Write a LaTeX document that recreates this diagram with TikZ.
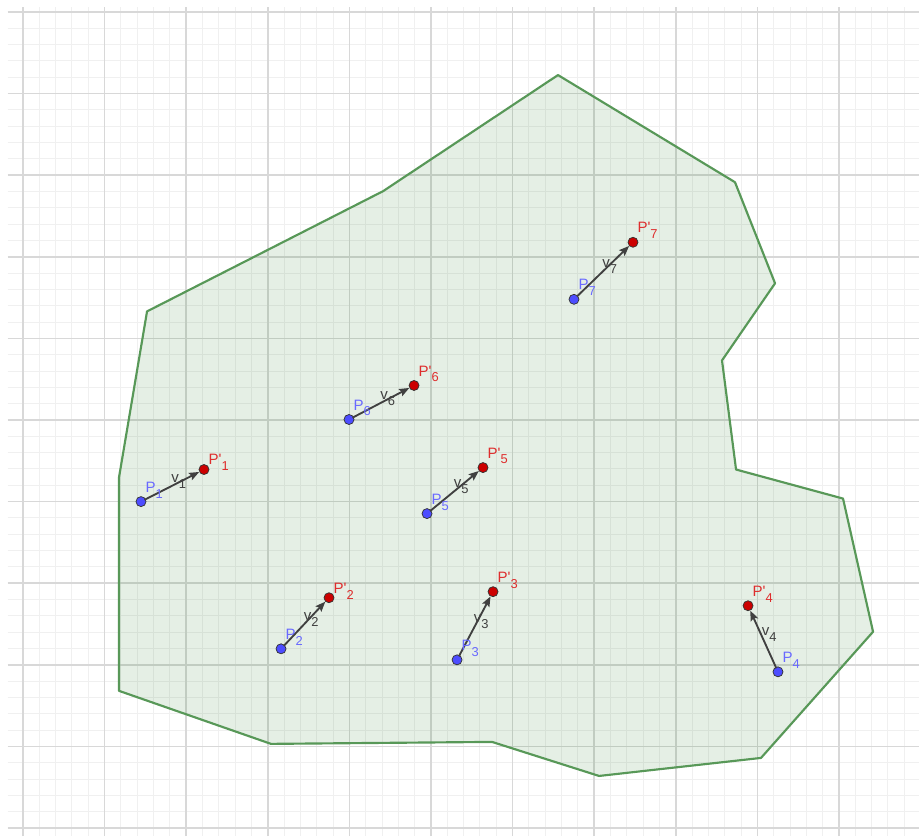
\documentclass[tikz,border=0pt]{standalone}
\usepackage{fontspec}
\setmainfont{Liberation Sans}
\usetikzlibrary{arrows.meta}

\definecolor{gridmajor}{RGB}{216,216,216}
\definecolor{gridminor}{RGB}{240,240,240}
\definecolor{polyline}{RGB}{88,152,88}
\definecolor{polyfill}{RGB}{0,100,0}
\definecolor{blueP}{RGB}{77,77,255}
\definecolor{redP}{RGB}{204,0,0}
\definecolor{blueL}{RGB}{105,105,255}
\definecolor{redL}{RGB}{222,45,45}
\definecolor{vecgray}{RGB}{64,64,64}

\newcommand{\lblsub}[1]{\raisebox{-4pt}{\fontsize{9}{10}\selectfont #1}}

\begin{document}
\begin{tikzpicture}[x=2cm,y=2cm,
    font=\fontsize{10.5}{12}\selectfont,
    origpt/.style={circle, inner sep=0pt, minimum size=7pt, fill=blueP, draw=black!80, line width=0.5pt},
    imgpt/.style={circle, inner sep=0pt, minimum size=7pt, fill=redP, draw=black!80, line width=0.5pt},
    lblorig/.style={anchor=base west, inner sep=0pt, xshift=3pt, yshift=6.5pt, text=blueL},
    lblimg/.style={anchor=base west, inner sep=0pt, xshift=3pt, yshift=6.5pt, text=redL},
    vec/.style={draw=vecgray, line width=1.3pt, -{Stealth[length=7pt,width=5.5pt,inset=1.2pt]}, shorten <=-1pt},
    lblvec/.style={anchor=base west, inner sep=0pt, xshift=-1.5pt, yshift=2pt, text=vecgray}]

    \useasboundingbox (-0.282,-0.098) rectangle (10.98,10.147);

    % Siatka
    \draw[gridminor, line width=0.7pt, step=0.2] (-0.19,-0.098) grid (10.98,10.06);
    \draw[gridmajor, line width=1.1pt, step=1] (-0.19,-0.098) grid (10.98,10.06);

    % Wielokat
    \draw[polyline, line width=1.5pt, line join=round, fill=polyfill, fill opacity=0.1]
        (6.556,9.227) -- (8.725,7.914) -- (9.216,6.675) -- (8.566,5.730)
        -- (8.738,4.393) -- (10.049,4.037) -- (10.417,2.405) -- (9.044,0.859)
        -- (7.059,0.638) -- (5.748,1.055) -- (3.039,1.031) -- (1.176,1.681)
        -- (1.176,4.294) -- (1.520,6.331) -- (4.412,7.804) -- cycle;

    % Punkty P_i
    \node[origpt] (P1) at (1.446,4.000) {};
    \node[origpt] (P2) at (3.162,2.196) {};
    \node[origpt] (P3) at (5.319,2.061) {};
    \node[origpt] (P4) at (9.252,1.914) {};
    \node[origpt] (P5) at (4.951,3.853) {};
    \node[origpt] (P6) at (3.995,5.006) {};
    \node[origpt] (P7) at (6.752,6.479) {};

    % Punkty P'_i
    \node[imgpt] (Q1) at (2.218,4.393) {};
    \node[imgpt] (Q2) at (3.750,2.822) {};
    \node[imgpt] (Q3) at (5.760,2.896) {};
    \node[imgpt] (Q4) at (8.885,2.724) {};
    \node[imgpt] (Q5) at (5.637,4.417) {};
    \node[imgpt] (Q6) at (4.792,5.423) {};
    \node[imgpt] (Q7) at (7.475,7.178) {};

    % Wektory v_i
    \draw[vec] (P1) -- node[lblvec] (v1) {v\lblsub{1}} (Q1);
    \draw[vec] (P2) -- node[lblvec] (v2) {v\lblsub{2}} (Q2);
    \draw[vec] (P3) -- node[lblvec] (v3) {v\lblsub{3}} (Q3);
    \draw[vec] (P4) -- node[lblvec] (v4) {v\lblsub{4}} (Q4);
    \draw[vec] (P5) -- node[lblvec] (v5) {v\lblsub{5}} (Q5);
    \draw[vec] (P6) -- node[lblvec] (v6) {v\lblsub{6}} (Q6);
    \draw[vec] (P7) -- node[lblvec] (v7) {v\lblsub{7}} (Q7);

    % Etykiety punktow
    \node[lblorig] (lP1) at (P1) {P\lblsub{1}};
    \node[lblorig] (lP2) at (P2) {P\lblsub{2}};
    \node[lblorig] (lP3) at (P3) {P\lblsub{3}};
    \node[lblorig] (lP4) at (P4) {P\lblsub{4}};
    \node[lblorig] (lP5) at (P5) {P\lblsub{5}};
    \node[lblorig] (lP6) at (P6) {P\lblsub{6}};
    \node[lblorig] (lP7) at (P7) {P\lblsub{7}};

    \node[lblimg, yshift=-3pt] (lQ1) at (Q1) {P\textquotesingle\lblsub{1}};
    \node[lblimg, yshift=-3.5pt] (lQ2) at (Q2) {P\textquotesingle\lblsub{2}};
    \node[lblimg] (lQ3) at (Q3) {P\textquotesingle\lblsub{3}};
    \node[lblimg] (lQ4) at (Q4) {P\textquotesingle\lblsub{4}};
    \node[lblimg] (lQ5) at (Q5) {P\textquotesingle\lblsub{5}};
    \node[lblimg] (lQ6) at (Q6) {P\textquotesingle\lblsub{6}};
    \node[lblimg] (lQ7) at (Q7) {P\textquotesingle\lblsub{7}};

\end{tikzpicture}
\end{document}
